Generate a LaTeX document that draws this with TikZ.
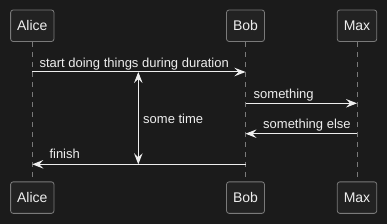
\documentclass[tikz,border=0pt]{standalone}
\usepackage{fontspec}
\setmainfont{Liberation Sans}
\usetikzlibrary{arrows.meta}
\definecolor{bgdark}{HTML}{1B1B1B}
\definecolor{boxfill}{HTML}{222222}
\definecolor{boxline}{HTML}{7A7A7A}
\definecolor{msgline}{HTML}{EEEEEE}
\tikzset{
  actor/.style={draw=boxline, fill=boxfill, rounded corners=2.5pt, text=msgline,
    minimum height=31.5pt, inner xsep=6.5pt, line width=0.8pt,
    font=\fontsize{14}{16}\selectfont},
  life/.style={draw=boxline, dash pattern=on 5pt off 5pt, line width=0.8pt},
  tip/.tip={Stealth[length=11pt,width=8.5pt,inset=4pt]},
  msg/.style={draw=msgline, line width=1pt, -tip},
  dur/.style={draw=msgline, line width=1pt, tip-tip},
  lbl/.style={text=msgline, inner sep=0pt, anchor=base west,
    font=\fontsize{13}{15}\selectfont},
}
\begin{document}
\begin{tikzpicture}[x=1pt,y=-1pt]
    \fill[bgdark] (0,0) rectangle (387,224);
    \useasboundingbox (0,0) rectangle (387,224);

    \node[actor] (aliceT) at (32.3,25.75) {Alice};
    \node[actor] (bobT) at (245.5,25.75) {Bob};
    \node[actor] (maxT) at (357,25.75) {Max};
    \node[actor] (aliceB) at (32.3,197.6) {Alice};
    \node[actor] (bobB) at (245.5,197.6) {Bob};
    \node[actor] (maxB) at (357,197.6) {Max};

    % lifelines
    \draw[life] (aliceT) -- (aliceB);
    \draw[life] (bobT) -- (bobB);
    \draw[life] (maxT) -- (maxB);

    % messages
    \coordinate (m1a) at (aliceT |- 0,72);
    \coordinate (m1b) at (bobT |- 0,72);
    \draw[msg] (m1a) -- (m1b);
    \node[lbl] (l1) at ([xshift=7pt,yshift=4.5pt]m1a) {start doing things during duration};

    \coordinate (m2a) at (bobT |- 0,103.3);
    \coordinate (m2b) at (maxT |- 0,103.3);
    \draw[msg] (m2a) -- (m2b);
    \node[lbl] (l2) at ([xshift=8pt,yshift=5pt]m2a) {something};

    \coordinate (m3a) at (maxT |- 0,133.7);
    \coordinate (m3b) at (bobT |- 0,133.7);
    \draw[msg] (m3a) -- (m3b);
    \node[lbl] (l3) at ([xshift=17.5pt,yshift=5pt]m3b) {something else};

    \coordinate (m4a) at (bobT |- 0,164.3);
    \coordinate (m4b) at (aliceT |- 0,164.3);
    \draw[msg] (m4a) -- (m4b);
    \node[lbl] (l4) at ([xshift=17pt,yshift=5.5pt]m4b) {finish};

    % duration
    \coordinate (d1) at (138.3,72);
    \coordinate (d2) at (138.3,164.3);
    \draw[dur] (d1) -- (d2);
    \node[lbl] (lt) at (143,123.3) {some time};
\end{tikzpicture}
\end{document}
